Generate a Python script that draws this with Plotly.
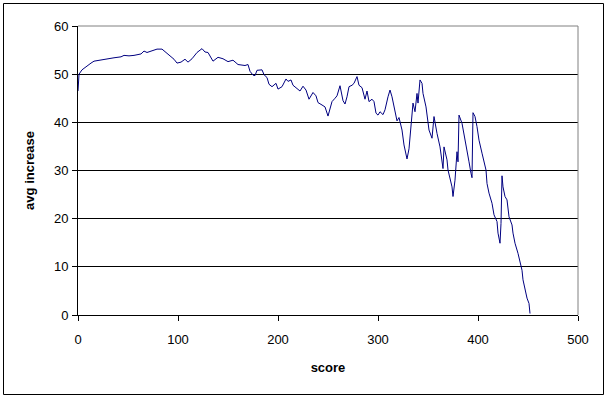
import plotly.graph_objects as go

score = [0, 1, 4, 8, 11, 13, 16, 21, 26, 31, 36, 43, 46, 51, 56, 63, 66, 69, 74, 79,
         84, 88, 92, 96, 99, 103, 107, 110, 114, 119, 124, 127, 130, 135, 140, 145, 150, 155, 160, 164,
         167, 170, 172, 175, 177, 179, 184, 186, 189, 191, 194, 198, 200, 204, 208, 210, 213, 215, 219, 222,
         225, 228, 231, 235, 238, 240, 244, 247, 250, 254, 257, 259, 262, 265, 267, 269, 271, 274, 276, 279,
         281, 284, 287, 289, 291, 294, 296, 298, 300, 302, 305, 307, 310, 312, 314, 317, 319, 321, 324, 326,
         329, 331, 334, 335, 337, 339, 340, 342, 344, 345, 348, 350, 351, 354, 355, 356, 359, 362, 365, 366,
         369, 370, 374, 375, 377, 379, 380, 381, 384, 386, 389, 391, 393, 394, 395, 397, 399, 401, 404, 406,
         408, 409, 411, 414, 416, 419, 420, 422, 423, 424, 425, 427, 429, 431, 434, 435, 437, 440, 442, 444,
         445, 447, 449, 451, 452]
avg_increase = [46.5, 50.0, 50.9, 51.6, 52.0, 52.3, 52.7, 52.9, 53.1, 53.2, 53.4, 53.6, 53.9, 53.8, 53.9, 54.2, 54.8, 54.5, 54.8, 55.2,
                55.2, 54.5, 53.8, 53.1, 52.3, 52.5, 53.1, 52.5, 53.2, 54.5, 55.3, 54.6, 54.5, 52.7, 53.5, 53.2, 52.6, 52.9, 52.0, 51.9,
                51.8, 52.0, 50.6, 49.8, 49.7, 50.8, 50.9, 49.9, 49.3, 47.9, 47.4, 48.1, 46.9, 47.4, 49.0, 48.5, 48.8, 47.7, 47.1, 46.5,
                47.5, 46.7, 44.8, 46.2, 45.5, 44.1, 43.6, 43.2, 41.3, 44.3, 45.0, 45.5, 47.6, 44.5, 43.8, 45.3, 47.4, 47.7, 48.1, 49.5,
                47.7, 47.2, 44.8, 46.5, 44.3, 44.8, 44.3, 41.9, 41.5, 42.2, 41.6, 42.6, 45.3, 46.7, 45.3, 42.4, 40.3, 41.0, 38.4, 35.3,
                32.4, 34.5, 40.5, 44.0, 42.2, 46.0, 44.0, 48.8, 48.1, 46.0, 43.2, 40.1, 38.4, 36.7, 39.1, 41.2, 37.7, 34.9, 30.4, 34.9,
                32.2, 30.1, 26.6, 24.6, 28.0, 33.9, 31.8, 41.5, 39.8, 37.7, 34.3, 31.8, 29.4, 28.5, 42.0, 41.2, 39.1, 36.3, 33.6, 31.5,
                30.1, 27.3, 25.3, 23.2, 20.8, 19.4, 17.0, 14.9, 19.0, 28.9, 26.6, 24.6, 23.9, 20.4, 18.7, 17.0, 14.9, 12.8, 10.7, 9.3,
                7.3, 5.2, 3.5, 2.4, 0.3]

x_ticks = [0, 100, 200, 300, 400, 500]
y_ticks = [0, 10, 20, 30, 40, 50, 60]

W, H = 608, 398
L, R, T, B = 78, 30, 26, 83
pw, ph = W - L - R, H - T - B

fig = go.Figure()
fig.add_trace(go.Scatter(x=score, y=avg_increase, mode="lines",
                         line=dict(color="#000080", width=1), hoverinfo="x+y"))

font = dict(family="Liberation Sans, Arial, sans-serif", size=13, color="black")

fig.update_layout(
    width=W, height=H,
    margin=dict(l=L, r=R, t=T, b=B, autoexpand=False),
    paper_bgcolor="white", plot_bgcolor="white",
    showlegend=False, font=font,
    xaxis=dict(range=[0, 500], tickvals=x_ticks, ticks="outside", ticklen=5, tickcolor="black",
               showline=True, linecolor="black", linewidth=1, showgrid=False, zeroline=False,
               ticklabelstandoff=7,
               title=dict(text="<b>score</b>", font=font, standoff=17), tickfont=font),
    yaxis=dict(range=[0, 60], tickvals=y_ticks, ticks="outside", ticklen=5, tickcolor="black",
               showline=True, linecolor="black", linewidth=1, showgrid=True, gridcolor="black",
               gridwidth=1, zeroline=False, ticklabelstandoff=1,
               title=dict(text="<b>avg increase</b>", font=font, standoff=16), tickfont=font),
)

# plot area border (gray top and right edges)
fig.add_shape(type="line", xref="paper", yref="paper", x0=0, x1=1, y0=1, y1=1,
              line=dict(color="#808080", width=1), layer="above")
fig.add_shape(type="line", xref="paper", yref="paper", x0=1, x1=1, y0=0, y1=1,
              line=dict(color="#808080", width=1), layer="above")

# outer chart border
def px_x(p):
    return (p - L) / pw

def px_y(p):
    return (H - B - p) / ph

fig.add_shape(type="rect", xref="paper", yref="paper",
              x0=px_x(3.5), x1=px_x(603.5), y0=px_y(394.5), y1=px_y(3.5),
              line=dict(color="black", width=1), fillcolor="rgba(0,0,0,0)", layer="above")

fig.write_html("out.html")
